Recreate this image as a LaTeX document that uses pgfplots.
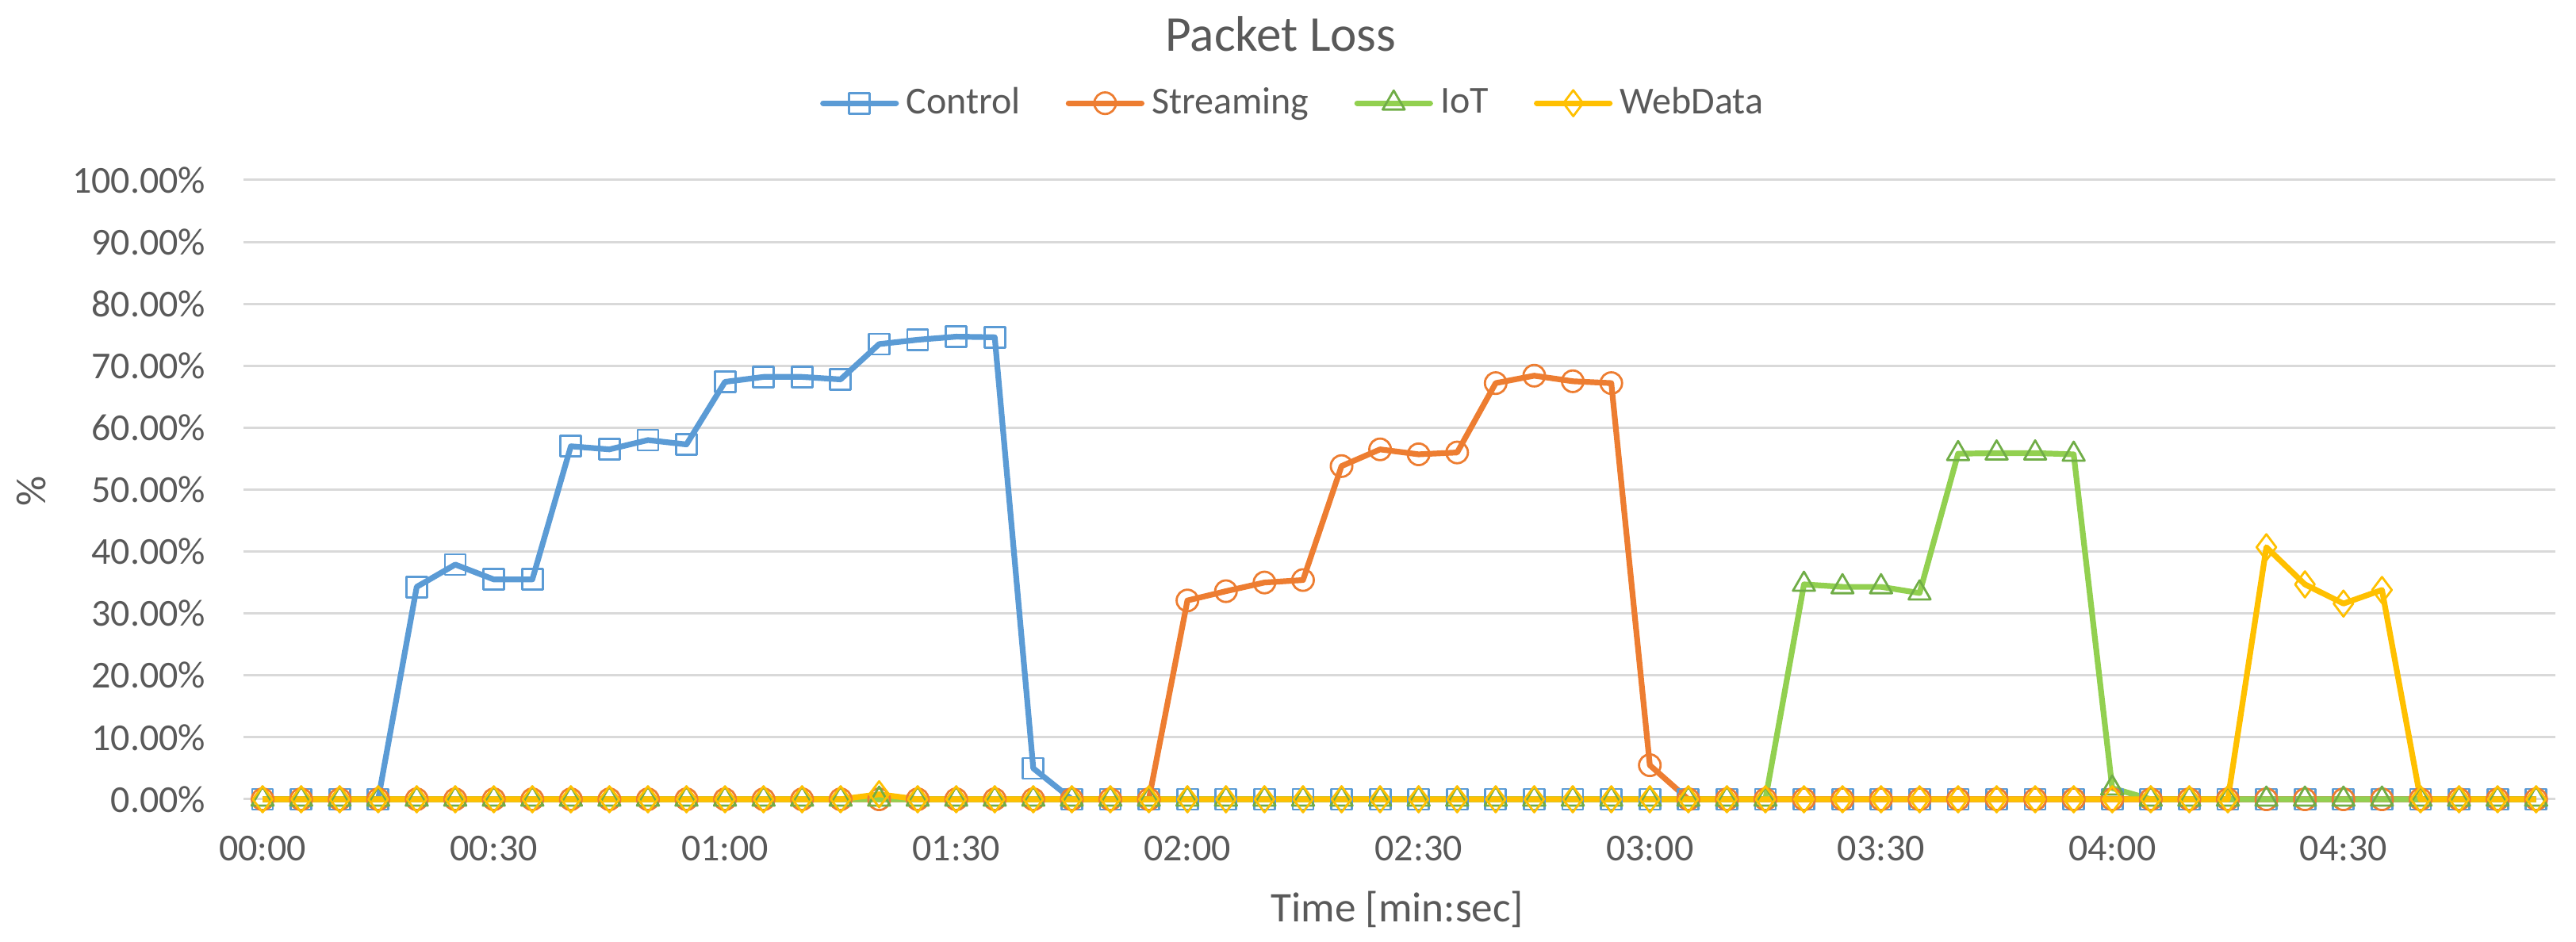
\documentclass[border=0pt]{standalone}
\usepackage{fontspec}
\setmainfont{Carlito}
\usepackage{pgfplots}
\usepackage{pgfplotstable}
\pgfplotsset{compat=1.18}
\definecolor{ctrl}{HTML}{5B9BD5}
\definecolor{strm}{HTML}{ED7D31}
\definecolor{iotl}{HTML}{92D050}
\definecolor{iotm}{HTML}{70AD47}
\definecolor{webd}{HTML}{FFC000}
\definecolor{txt}{HTML}{595959}
\definecolor{grd}{HTML}{D9D9D9}

\pgfplotstableread{
t c s i w
0 0 0 0 0
1 0 0 0 0
2 0 0 0 0
3 0 0 0 0
4 34.3 0 0 0
5 37.9 0 0 0
6 35.5 0 0 0
7 35.5 0 0 0
8 57.0 0 0 0
9 56.5 0 0 0
10 58.0 0 0 0
11 57.3 0 0 0
12 67.4 0 0 0
13 68.2 0 0 0
14 68.2 0 0 0
15 67.8 0 0 0
16 73.5 0 0 0.8
17 74.2 0 0 0
18 74.7 0 0 0
19 74.6 0 0 0
20 5.0 0 0 0
21 0 0 0 0
22 0 0 0 0
23 0 0 0 0
24 0 32.1 0 0
25 0 33.6 0 0
26 0 35.0 0 0
27 0 35.4 0 0
28 0 53.8 0 0
29 0 56.5 0 0
30 0 55.7 0 0
31 0 56.0 0 0
32 0 67.2 0 0
33 0 68.4 0 0
34 0 67.5 0 0
35 0 67.2 0 0
36 0 5.5 0 0
37 0 0 0 0
38 0 0 0 0
39 0 0 0 0
40 0 0 34.7 0
41 0 0 34.3 0
42 0 0 34.3 0
43 0 0 33.3 0
44 0 0 55.8 0
45 0 0 55.9 0
46 0 0 55.9 0
47 0 0 55.7 0
48 0 0 1.8 0
49 0 0 0 0
50 0 0 0 0
51 0 0 0 0
52 0 0 0 40.7
53 0 0 0 34.7
54 0 0 0 31.6
55 0 0 0 33.8
56 0 0 0 0
57 0 0 0 0
58 0 0 0 0
59 0 0 0 0
}\data

\begin{document}
\begin{tikzpicture}
\useasboundingbox (0pt,0pt) rectangle (812pt,297pt);
\begin{axis}[
  at={(76.7pt,45pt)}, anchor=south west,
  scale only axis, width=728.8pt, height=195.25pt,
  xmin=-0.5, xmax=59.5, ymin=0, ymax=100,
  clip=false,
  axis line style={draw=none},
  major tick length=0pt,
  ymajorgrids, grid style={draw=grd, line width=0.75pt},
  xtick={0,6,...,54},
  xticklabels={00:00,00:30,01:00,01:30,02:00,02:30,03:00,03:30,04:00,04:30},
  ytick={0,10,...,100},
  yticklabels={0.00\%,10.00\%,20.00\%,30.00\%,40.00\%,50.00\%,60.00\%,70.00\%,80.00\%,90.00\%,100.00\%},
  ticklabel style={font=\fontsize{12}{14}\selectfont, text=txt},
  xticklabel style={anchor=center, yshift=-15.5pt},
  yticklabel style={anchor=east, inner sep=0pt, xshift=-11.7pt},
  legend columns=4,
  legend style={at={(0.455,1.124)}, anchor=center, draw=none, fill=none,
    font=\fontsize{12}{14}\selectfont, text=txt,
    /tikz/every even column/.append style={column sep=12pt},
    nodes={inner xsep=2.3pt, inner ysep=1pt}},
  legend image code/.code={\draw[mark repeat=2,mark phase=2,line cap=round] plot coordinates {(0pt,0pt) (11.5pt,0pt) (23pt,0pt)};},
  every axis plot/.append style={line width=1.8pt, line join=round},
]
\addplot[color=ctrl, mark=square, mark size=3.25pt, mark options={line width=0.7pt, fill=none, solid}] table[x=t,y=c]{\data};
\addlegendentry{Control}
\addplot[color=strm, mark=o, mark size=3.4pt, mark options={line width=0.7pt, fill=none, solid}] table[x=t,y=s]{\data};
\addlegendentry{Streaming}
\addplot[color=iotl, mark=triangle, mark size=4pt, mark options={draw=iotm, line width=0.7pt, fill=none, solid}] table[x=t,y=i]{\data};
\addlegendentry{IoT}
\addplot[color=webd, mark=diamond, mark size=4.1pt, mark options={line width=0.7pt, fill=none, solid}] table[x=t,y=w]{\data};
\addlegendentry{WebData}
\end{axis}
\node[font=\fontsize{15.8}{18}\selectfont, text=txt] at (403.75pt,286.25pt) {Packet Loss};
\node[font=\fontsize{13.3}{16}\selectfont, text=txt] at (440.5pt,10.25pt) {Time [min:sec]};
\node[font=\fontsize{13.3}{16}\selectfont, text=txt, rotate=90] at (10pt,142.25pt) {\%};
\end{tikzpicture}
\end{document}
